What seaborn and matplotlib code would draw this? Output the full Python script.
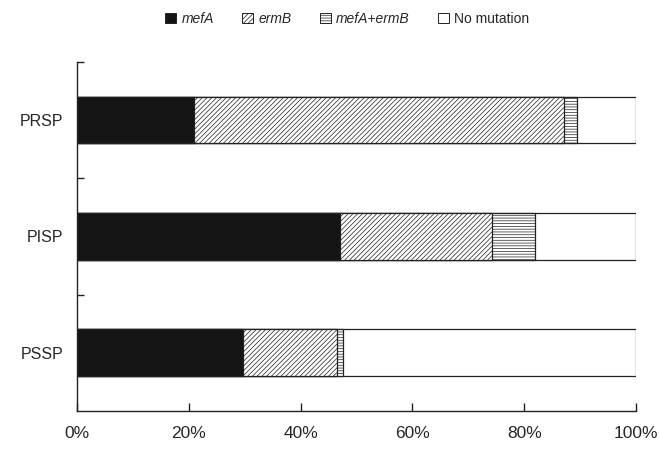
import matplotlib.pyplot as plt
import matplotlib.patches as mpatches
import pandas as pd
import seaborn as sns

groups = ["PRSP", "PISP", "PSSP"]
mefa = [20.9, 47.0, 29.7]
ermb = [66.2, 27.2, 16.8]
both = [2.3, 7.7, 1.0]
none = [10.6, 18.1, 52.5]

series = ["mefA", "ermB", "mefA+ermB", "No mutation"]
styles = {
    "mefA": dict(color="#141414", hatch=None),
    "ermB": dict(color="white", hatch="///////"),
    "mefA+ermB": dict(color="white", hatch="------"),
    "No mutation": dict(color="white", hatch=None),
}

df = pd.DataFrame({"group": groups, "mefA": mefa, "ermB": ermb,
                   "mefA+ermB": both, "No mutation": none})
cum = df[series].cumsum(axis=1)

sns.set_style("white")
plt.rcParams["font.family"] = ["Liberation Sans", "DejaVu Sans"]
plt.rcParams["hatch.linewidth"] = 0.5
plt.rcParams["hatch.color"] = "#555555"

fig = plt.figure(figsize=(6.59, 4.49), dpi=100)
ax = fig.add_axes([0.117, 0.085, 0.848, 0.777])

# draw cumulative totals back to front so each layer covers the next
for name in reversed(series):
    d = pd.DataFrame({"group": groups, "value": cum[name]})
    sns.barplot(data=d, x="value", y="group", order=groups, orient="h",
                color=styles[name]["color"], width=0.4, edgecolor="#222222",
                linewidth=0.9, saturation=1, ax=ax)
    for bar in ax.patches[-len(groups):]:
        bar.set_facecolor(styles[name]["color"])
        if styles[name]["hatch"]:
            bar.set_hatch(styles[name]["hatch"])

ax.set_xlim(0, 100)
ax.set_ylim(2.5, -0.5)
ax.set_xticks([0, 20, 40, 60, 80, 100])
ax.set_xticklabels([f"{v}%" for v in [0, 20, 40, 60, 80, 100]])
ax.set_yticks([0, 1, 2])
ax.set_yticklabels(groups)
ax.set_yticks([-0.5, 0.5, 1.5], minor=True)
ax.tick_params(axis="y", which="major", length=0, labelsize=11.5, pad=10)
ax.tick_params(axis="y", which="minor", direction="in", length=5,
               width=1, color="#222222", left=True)
ax.tick_params(axis="x", direction="in", length=6, width=1, color="#222222",
               bottom=True, labelsize=12.5, pad=11)
ax.set_xlabel("")
ax.set_ylabel("")
for side in ["top", "right"]:
    ax.spines[side].set_visible(False)
for side in ["left", "bottom"]:
    ax.spines[side].set_color("#222222")
    ax.spines[side].set_linewidth(1)

handles = [mpatches.Patch(facecolor=styles[s]["color"], hatch=styles[s]["hatch"],
                          edgecolor="#222222", linewidth=0.7) for s in series]
leg = fig.legend(handles, series, loc="center", bbox_to_anchor=(0.527, 0.958),
                 ncol=4, frameon=False, fontsize=10, handlelength=0.8,
                 handleheight=0.8, handletextpad=0.4, columnspacing=2.0)
for t in leg.get_texts()[:3]:
    t.set_style("italic")

fig.savefig("out.png", dpi=100)
